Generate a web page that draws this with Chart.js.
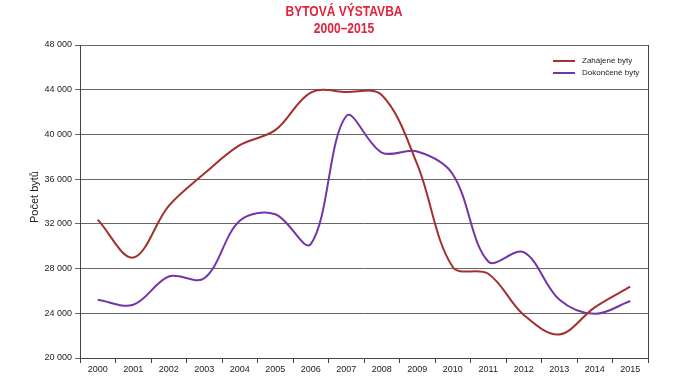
<!DOCTYPE html>
<html>
<head>
<meta charset="utf-8">
<script src="https://cdn.jsdelivr.net/npm/chart.js@4"></script>
<style>
html,body{margin:0;padding:0;background:#fff;}
#wrap{width:674px;height:380px;position:relative;}
</style>
</head>
<body>
<div id="wrap"><canvas id="c" width="674" height="380"></canvas></div>
<script>
const years = ['2000','2001','2002','2003','2004','2005','2006','2007','2008','2009','2010','2011','2012','2013','2014','2015'];
const started = [32377,28983,33606,36496,39037,40381,43747,43796,43531,37319,28135,27535,23853,22108,24531,26378];
const completed = [25207,24759,27291,27127,32268,32863,30190,41649,38380,38473,36442,28630,29467,25238,23954,25095];
const seriesNames = ['Zahájené byty','Dokončené byty'];
const titleLines = ['BYTOVÁ VÝSTAVBA','2000–2015'];
const yAxisTitle = 'Počet bytů';
const yMin = 20000, yMax = 48000, yStep = 4000;

const decor = {
  id:'decor',
  afterDraw(chart){
    const ctx = chart.ctx, a = chart.chartArea;
    ctx.save();
    // right border
    ctx.strokeStyle = '#444'; ctx.lineWidth = 1;
    ctx.beginPath(); ctx.moveTo(a.right+0.5, a.top); ctx.lineTo(a.right+0.5, a.bottom); ctx.stroke();
    // title (condensed look)
    ctx.save();
    ctx.translate(344, 0);
    ctx.scale(0.86, 1);
    ctx.fillStyle = '#E0223C';
    ctx.font = 'bold 14px "Liberation Sans", Arial, sans-serif';
    ctx.textAlign = 'center'; ctx.textBaseline = 'middle';
    ctx.fillText(titleLines[0], 0, 12);
    ctx.fillText(titleLines[1], 0, 29);
    ctx.restore();
    // y axis title
    ctx.save();
    ctx.translate(35, 197); ctx.rotate(-Math.PI/2);
    ctx.fillStyle = '#222';
    ctx.textAlign = 'center'; ctx.textBaseline = 'middle';
    ctx.font = '11px "Liberation Sans", Arial, sans-serif';
    ctx.fillText(yAxisTitle, 0, 0);
    ctx.restore();
    // legend
    const ys = [61, 73];
    chart.data.datasets.forEach((ds, i) => {
      ctx.strokeStyle = ds.borderColor; ctx.lineWidth = 2;
      ctx.beginPath(); ctx.moveTo(553, ys[i]); ctx.lineTo(575, ys[i]); ctx.stroke();
      ctx.fillStyle = '#222';
      ctx.font = '8px "Liberation Sans", Arial, sans-serif';
      ctx.textAlign = 'left'; ctx.textBaseline = 'middle';
      ctx.fillText(ds.label, 582, ys[i]);
    });
    ctx.restore();
  }
};

new Chart(document.getElementById('c'), {
  type:'line',
  data:{
    labels: years,
    datasets:[
      {label: seriesNames[0], data: started, borderColor:'#A3302E', borderWidth:2, pointRadius:0, tension:0.35, fill:false},
      {label: seriesNames[1], data: completed, borderColor:'#7236A8', borderWidth:2, pointRadius:0, tension:0.35, fill:false}
    ]
  },
  options:{
    responsive:false, animation:false,
    layout:{padding:{top:45, right:26, left:0, bottom:0}},
    plugins:{legend:{display:false}, title:{display:false}, tooltip:{enabled:false}},
    scales:{
      x:{
        offset:true,
        grid:{display:true, offset:true, drawOnChartArea:false, drawTicks:true, tickLength:5, color:'#444'},
        border:{display:true, color:'#444'},
        ticks:{padding:1, color:'#222', font:{size:9, family:'"Liberation Sans", Arial, sans-serif'}, maxRotation:0, autoSkip:false},
        afterFit(s){ s.height = 22; }
      },
      y:{
        min:yMin, max:yMax,
        grid:{color:'#666', tickLength:5, drawTicks:true},
        border:{display:true, color:'#444'},
        ticks:{stepSize:yStep, padding:3, color:'#222', font:{size:9, family:'"Liberation Sans", Arial, sans-serif'},
          callback:v => String(v).replace(/\B(?=(\d{3})+(?!\d))/g,' ')},
        afterFit(s){ s.width = 80; }
      }
    }
  },
  plugins:[decor]
});
</script>
</body>
</html>
